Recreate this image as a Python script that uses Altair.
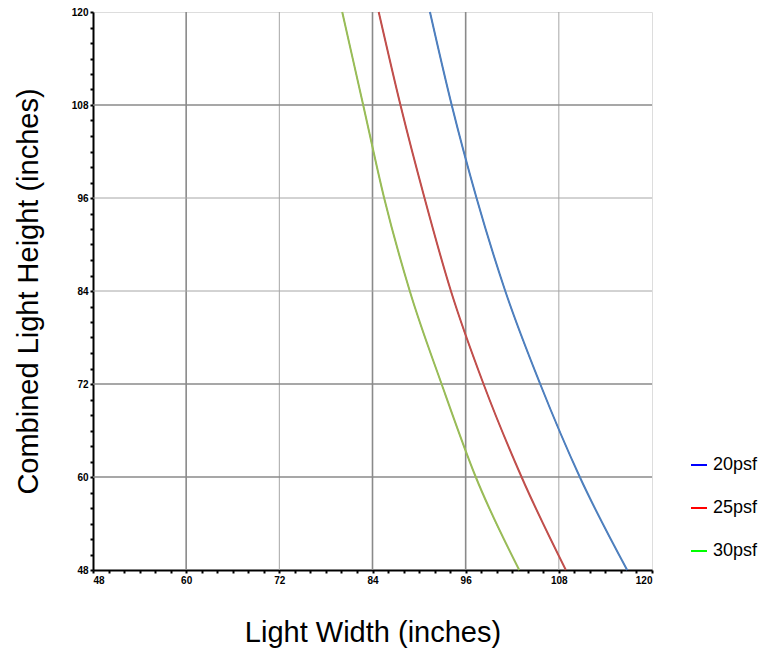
import altair as alt
import pandas as pd

# Combined light height (y) and read-off light widths (x) for each load
heights = [120, 108, 96, 84, 72, 60, 48]
w20 = [91.4, 94.2, 97.4, 101.1, 105.6, 110.7, 116.8]
w25 = [84.8, 87.6, 90.7, 94.1, 98.3, 103.2, 108.9]
w30 = [80.1, 82.8, 85.5, 88.8, 92.9, 97.3, 102.9]
series = ["20psf", "25psf", "30psf"]

line_colors = ["#4F81BD", "#C0504D", "#9BBB59"]
legend_colors = ["#0000FF", "#FF0000", "#00FF00"]

tick_values = list(range(48, 121, 2))
grid_major = [60, 72, 84, 96, 108]
grid_x_strong = [60, 84, 96]
grid_y_strong = [60, 72, 108]

rows = []
for name, ws in zip(series, [w20, w25, w30]):
    for h, w in zip(heights, ws):
        rows.append({"series": name, "width": w, "height": h})
df = pd.DataFrame(rows)

gx = pd.DataFrame({"v": grid_major, "strong": [v in grid_x_strong for v in grid_major]})
gy = pd.DataFrame({"v": grid_major, "strong": [v in grid_y_strong for v in grid_major]})

xscale = alt.Scale(domain=[48, 120], nice=False, zero=False)
yscale = alt.Scale(domain=[48, 120], nice=False, zero=False)

label_expr = "datum.value % 12 == 0 ? datum.label : ''"
axis_common = dict(
    values=tick_values,
    labelExpr=label_expr,
    grid=False,
    domainColor="black",
    domainWidth=2,
    tickColor="black",
    tickSize=3,
    tickWidth=2,
    labelFont="Liberation Sans",
    labelFontWeight="bold",
    labelFontSize=10,
    labelColor="black",
    labelPadding=2,
    titleFont="Liberation Sans",
    titleFontWeight="normal",
    titleFontSize=29,
    titleColor="black",
)
xaxis = alt.Axis(title="Light Width (inches)", titlePadding=33, **axis_common)
yaxis = alt.Axis(title="Combined Light Height (inches)", titlePadding=28, **axis_common)

vgrid = alt.Chart(gx).mark_rule().encode(
    x=alt.X("v:Q", scale=xscale, axis=xaxis),
    color=alt.condition("datum.strong", alt.value("#8a8a8a"), alt.value("#a6a6a6")),
    strokeWidth=alt.condition("datum.strong", alt.value(1.6), alt.value(1)),
)
hgrid = alt.Chart(gy).mark_rule().encode(
    y=alt.Y("v:Q", scale=yscale, axis=yaxis),
    color=alt.condition("datum.strong", alt.value("#8a8a8a"), alt.value("#a6a6a6")),
    strokeWidth=alt.condition("datum.strong", alt.value(1.6), alt.value(1)),
)

# Legend layer (pure colours) drawn underneath the visible curves
legend_layer = alt.Chart(df).mark_line(strokeWidth=1, interpolate="monotone").encode(
    x=alt.X("width:Q", scale=xscale, axis=xaxis),
    y=alt.Y("height:Q", scale=yscale, axis=yaxis),
    color=alt.Color(
        "series:N",
        scale=alt.Scale(domain=series, range=legend_colors),
        legend=alt.Legend(
            title=None,
            orient="none",
            legendX=597,
            legendY=444,
            symbolType="stroke",
            symbolSize=256,
            symbolStrokeWidth=2,
            labelFont="Liberation Sans",
            labelFontSize=18,
            labelColor="black",
            labelOffset=5,
            rowPadding=25,
        ),
    ),
    detail="series:N",
)

curves = alt.Chart(df).mark_line(strokeWidth=2, interpolate="monotone").encode(
    x=alt.X("width:Q", scale=xscale, axis=xaxis),
    y=alt.Y("height:Q", scale=yscale, axis=yaxis),
    color=alt.Color("series:N", scale=alt.Scale(domain=series, range=line_colors), legend=None),
    detail="series:N",
)

chart = (
    alt.layer(vgrid, hgrid, legend_layer, curves)
    .resolve_scale(color="independent")
    .properties(
        width=559,
        height=558,
        autosize=alt.AutoSizeParams(type="none"),
        padding={"left": 85, "top": 4, "right": 108, "bottom": 80},
    )
    .configure_view(stroke="#8a8a8a", strokeWidth=1)
    .configure(background="white")
)

chart.save("out.html", embed_options={"renderer": "svg", "actions": False})
